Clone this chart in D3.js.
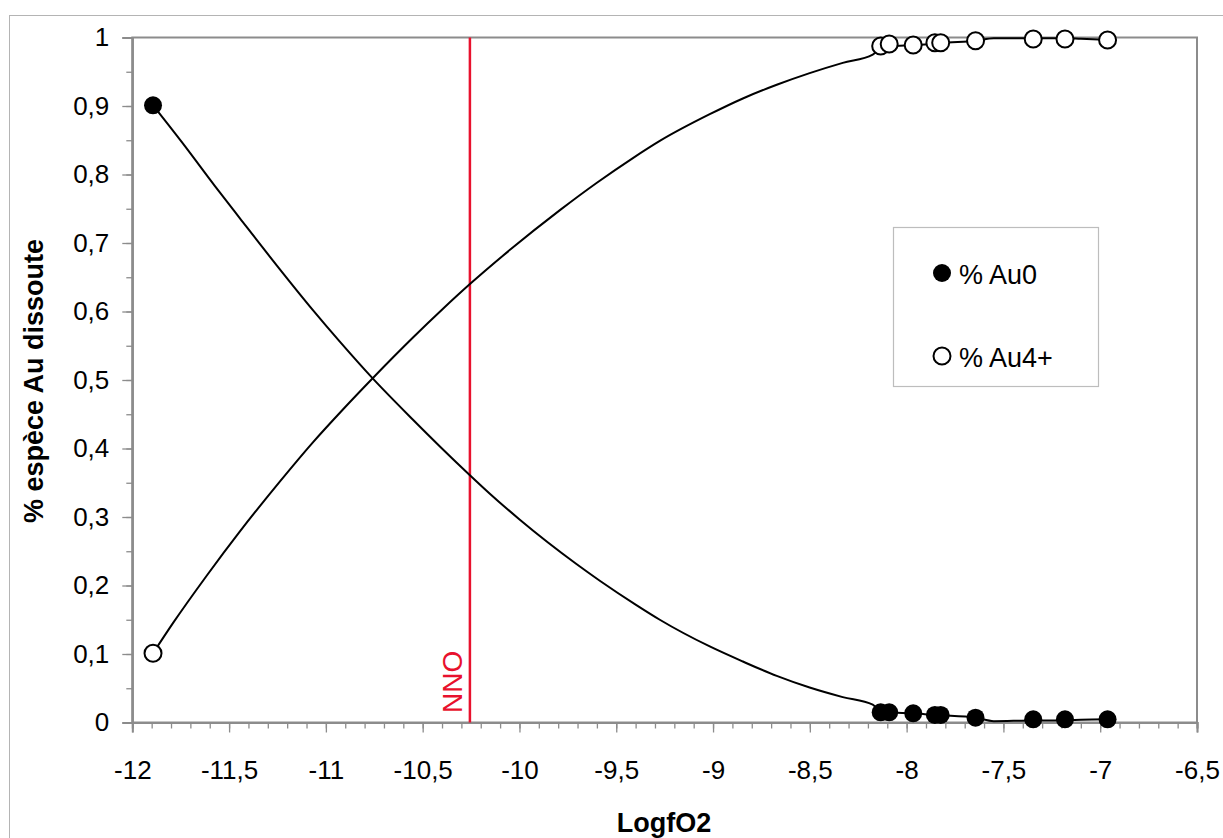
<!DOCTYPE html>
<html>
<head>
<meta charset="utf-8">
<script src="https://cdn.jsdelivr.net/npm/d3@7"></script>
<style>
  html, body { margin: 0; padding: 0; background: #fff; }
  svg { display: block; font-family: "Liberation Sans", Arial, sans-serif; }
</style>
</head>
<body>
<script>
// ---- data ----
const xTicks = [-12, -11.5, -11, -10.5, -10, -9.5, -9, -8.5, -8, -7.5, -7, -6.5];
const xTickLabels = ["-12", "-11,5", "-11", "-10,5", "-10", "-9,5", "-9", "-8,5", "-8", "-7,5", "-7", "-6,5"];
const yTicks = [0, 0.1, 0.2, 0.3, 0.4, 0.5, 0.6, 0.7, 0.8, 0.9, 1];
const yTickLabels = ["0", "0,1", "0,2", "0,3", "0,4", "0,5", "0,6", "0,7", "0,8", "0,9", "1"];

// measured points
const au0X = [-11.893, -8.134, -8.09, -7.966, -7.854, -7.824, -7.644, -7.346, -7.182, -6.962];
const au0Y = [0.901, 0.0149, 0.0149, 0.0134, 0.011, 0.011, 0.007, 0.0047, 0.0047, 0.0047];
const au4X = [-11.893, -8.134, -8.09, -7.966, -7.854, -7.824, -7.644, -7.346, -7.182, -6.962];
const au4Y = [0.101, 0.9876, 0.9905, 0.989, 0.9924, 0.9924, 0.9953, 0.9978, 0.9978, 0.9964];

// model curves
const au0CurveX = [-11.893, -11.738, -11.573, -11.444, -11.253, -11.067, -10.928, -10.757, -10.550, -10.411, -10.256, -10.153, -9.998, -9.704, -9.585, -9.394, -9.275, -9.017, -8.846, -8.671, -8.501, -8.330, -8.175, -8.134, -8.09, -7.966, -7.854, -7.824, -7.644, -7.55, -7.346, -7.182, -7.1, -6.962];
const au0CurveY = [0.901, 0.845, 0.783, 0.736, 0.667, 0.602, 0.556, 0.502, 0.442, 0.403, 0.361, 0.334, 0.296, 0.231, 0.207, 0.171, 0.150, 0.111, 0.089, 0.068, 0.051, 0.037, 0.026, 0.0149, 0.0145, 0.0134, 0.011, 0.0105, 0.007, 0.002, 0.003, 0.003, 0.004, 0.0047];
const au4CurveX = [-11.893, -11.790, -11.614, -11.444, -11.237, -11.067, -10.912, -10.757, -10.550, -10.395, -10.256, -10.049, -9.791, -9.600, -9.414, -9.275, -9.017, -8.846, -8.671, -8.501, -8.330, -8.175, -8.134, -8.09, -7.966, -7.854, -7.824, -7.644, -7.55, -7.346, -7.182, -7.1, -6.962];
const au4CurveY = [0.101, 0.145, 0.215, 0.279, 0.352, 0.409, 0.457, 0.503, 0.562, 0.604, 0.640, 0.690, 0.748, 0.788, 0.824, 0.849, 0.888, 0.911, 0.931, 0.948, 0.963, 0.975, 0.984, 0.987, 0.989, 0.991, 0.992, 0.995, 0.999, 0.999, 0.999, 0.998, 0.9964];

const nnoX = -10.256;
const seriesNames = ["% Au0", "% Au4+"];
const xTitle = "LogfO2";
const yTitle = "% espèce Au dissoute";
const nnoLabel = "NNO";

(function () {
// ---- layout ----
const W = 1223, H = 838;
const pL = 132.3, pR = 1197, pT = 37.5, pB = 722.5;
const tickFont = 26;

const svg = d3.select("body").append("svg").attr("width", W).attr("height", H);

// outer chart border
svg.append("rect").attr("x", 9.5).attr("y", 15.5).attr("width", 1400).attr("height", 1000)
  .attr("fill", "none").attr("stroke", "#b4b4b4").attr("stroke-width", 1);

const x = d3.scaleLinear().domain([-12, -6.5]).range([pL, pR]);
const y = d3.scaleLinear().domain([0, 1]).range([pB, pT]);

// plot frame
svg.append("rect").attr("x", pL).attr("y", pT).attr("width", pR - pL).attr("height", pB - pT)
  .attr("fill", "#fff").attr("stroke", "#8c8c8c").attr("stroke-width", 2);

// minor ticks
const xMinor = d3.range(0, 56).map(i => -12 + i * 0.1).filter(v => v <= -6.49);
const yMinor = d3.range(0, 21).map(i => i * 0.05);

const gxMinor = svg.append("g").attr("transform", `translate(0,${pB})`)
  .call(d3.axisBottom(x).tickValues(xMinor).tickSize(6).tickFormat(""));
const gyMinor = svg.append("g").attr("transform", `translate(${pL},0)`)
  .call(d3.axisLeft(y).tickValues(yMinor).tickSize(6).tickFormat(""));

const gx = svg.append("g").attr("transform", `translate(0,${pB})`)
  .call(d3.axisBottom(x).tickValues(xTicks).tickSize(10).tickPadding(28)
    .tickFormat((d, i) => xTickLabels[i]));
const gy = svg.append("g").attr("transform", `translate(${pL},0)`)
  .call(d3.axisLeft(y).tickValues(yTicks).tickSize(10).tickPadding(13)
    .tickFormat((d, i) => yTickLabels[i]));

[gxMinor, gyMinor, gx, gy].forEach(g => {
  g.select(".domain").attr("stroke", "#8c8c8c").attr("stroke-width", 2);
  g.selectAll(".tick line").attr("stroke", "#8c8c8c").attr("stroke-width", 1.3);
  g.selectAll(".tick text").attr("font-size", tickFont).attr("fill", "#000")
    .attr("font-family", "'Liberation Sans', Arial, sans-serif");
});

// axis titles
svg.append("text").attr("x", 664).attr("y", 832).attr("text-anchor", "middle")
  .attr("font-size", 27).attr("font-weight", "bold").text(xTitle);
svg.append("text").attr("transform", `translate(43,381) rotate(-90)`).attr("text-anchor", "middle")
  .attr("font-size", 27).attr("font-weight", "bold").text(yTitle);

// NNO line
svg.append("line").attr("x1", x(nnoX)).attr("x2", x(nnoX)).attr("y1", y(1)).attr("y2", y(0))
  .attr("stroke", "#e8112d").attr("stroke-width", 2.5);
svg.append("text").attr("transform", `translate(${x(nnoX) - 8},713) rotate(-90)`)
  .attr("font-size", 28).attr("fill", "#e8112d").text(nnoLabel);

// curves
const line = d3.line().x(d => x(d[0])).y(d => y(d[1])).curve(d3.curveMonotoneX);
const au0Curve = au0CurveX.map((v, i) => [v, au0CurveY[i]]);
const au4Curve = au4CurveX.map((v, i) => [v, au4CurveY[i]]);
svg.append("path").datum(au0Curve).attr("d", line).attr("fill", "none").attr("stroke", "#000").attr("stroke-width", 2);
svg.append("path").datum(au4Curve).attr("d", line).attr("fill", "none").attr("stroke", "#000").attr("stroke-width", 2);

// markers
const au0Pts = au0X.map((v, i) => [v, au0Y[i]]);
const au4Pts = au4X.map((v, i) => [v, au4Y[i]]);
svg.append("g").selectAll("circle").data(au0Pts).join("circle")
  .attr("cx", d => x(d[0])).attr("cy", d => y(d[1])).attr("r", 9).attr("fill", "#000");
svg.append("g").selectAll("circle").data(au4Pts).join("circle")
  .attr("cx", d => x(d[0])).attr("cy", d => y(d[1])).attr("r", 8.5)
  .attr("fill", "#fff").attr("stroke", "#000").attr("stroke-width", 2);

// legend
const lg = svg.append("g");
lg.append("rect").attr("x", 893.5).attr("y", 227.5).attr("width", 205).attr("height", 159)
  .attr("fill", "#fff").attr("stroke", "#bdbdbd").attr("stroke-width", 1.2);
lg.append("circle").attr("cx", 942).attr("cy", 273).attr("r", 9).attr("fill", "#000");
lg.append("circle").attr("cx", 942).attr("cy", 356).attr("r", 8.5).attr("fill", "#fff").attr("stroke", "#000").attr("stroke-width", 2);
lg.append("text").attr("x", 959).attr("y", 284).attr("font-size", 27).text(seriesNames[0]);
lg.append("text").attr("x", 959).attr("y", 367).attr("font-size", 27).text(seriesNames[1]);
})();
</script>
</body>
</html>
